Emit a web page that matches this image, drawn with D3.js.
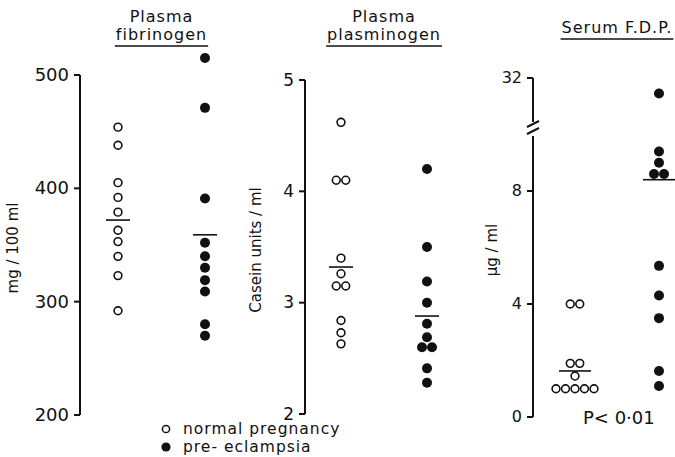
<!DOCTYPE html>
<html>
<head>
<meta charset="utf-8">
<script src="https://cdn.jsdelivr.net/npm/d3@7"></script>
<style>
  body { margin: 0; background: #fff; }
  svg text { font-family: "DejaVu Sans", sans-serif; fill: #111; }
</style>
</head>
<body>
<div id="chart"></div>
<script>
// values
var fibrinogenNormal = [454, 438, 405, 392, 379, 363, 353, 340, 323, 292];
var fibrinogenPre = [515, 471, 391, 352, 340, 330, 319, 309, 280, 270];
var fibrinogenMeans = [372, 359];
var fibrinogenTicks = [200, 300, 400, 500];

var plasminogenNormal = [4.62, 4.10, 4.10, 3.40, 3.26, 3.15, 3.15, 2.84, 2.73, 2.63];
var plasminogenPre = [4.20, 3.50, 3.19, 3.00, 2.81, 2.69, 2.60, 2.60, 2.41, 2.28];
var plasminogenMeans = [3.32, 2.88];
var plasminogenTicks = [2, 3, 4, 5];

var fdpNormal = [4.0, 4.0, 1.9, 1.9, 1.45, 1.0, 1.0, 1.0, 1.0, 1.0];
var fdpPre = [28, 9.4, 9.0, 8.6, 8.6, 5.35, 4.3, 3.5, 1.63, 1.1];
var fdpMeans = [1.63, 8.4];
var fdpTicks = [0, 4, 8, 32];

var groups = ['normal pregnancy', 'pre- eclampsia'];

var width = 675, height = 457;
var svg = d3.select('#chart').append('svg')
    .attr('width', width).attr('height', height);

var ink = '#111';

// panel setup
var panels = [
  {title: ['Plasma', 'fibrinogen'], axisX: 80, domain: [200, 500], range: [415, 75],
   ticks: fibrinogenTicks, fmt: d3.format('d'), cols: [118, 205],
   data: [fibrinogenNormal, fibrinogenPre], means: fibrinogenMeans,
   label: 'mg / 100 ml', labelX: 18, labelY: 248, tickSize: 18},
  {title: ['Plasma', 'plasminogen'], axisX: 305, domain: [2, 5], range: [414, 80],
   ticks: plasminogenTicks, fmt: d3.format('d'), cols: [341, 427],
   data: [plasminogenNormal, plasminogenPre], means: plasminogenMeans,
   label: 'Casein units / ml', labelX: 261, labelY: 250, tickSize: 17},
  {title: ['Serum F.D.P.'], axisX: 533, domain: [0, 8], range: [417, 191],
   upperDomain: [16, 32], upperRange: [140, 78],
   ticks: fdpTicks, fmt: d3.format('d'), cols: [575, 659],
   data: [fdpNormal, fdpPre], means: fdpMeans,
   label: 'µg / ml', labelX: 497, labelY: 250, tickSize: 16}
];

panels.forEach(function(p, pi) {
  var g = svg.append('g');
  var yLow = d3.scaleLinear().domain(p.domain).range(p.range);
  var yUp = p.upperDomain ? d3.scaleLinear().domain(p.upperDomain).range(p.upperRange) : null;
  var y = function(v) { return (yUp && v > p.domain[1] + 4) ? yUp(v) : yLow(v); };

  // axis line (with a break for the F.D.P. panel)
  if (yUp) {
    g.append('line').attr('x1', p.axisX).attr('x2', p.axisX)
      .attr('y1', yUp(32)).attr('y2', 122).attr('stroke', ink).attr('stroke-width', 2);
    g.append('line').attr('x1', p.axisX).attr('x2', p.axisX)
      .attr('y1', 136).attr('y2', yLow(0)).attr('stroke', ink).attr('stroke-width', 2);
    [124, 131].forEach(function(by) {
      g.append('line').attr('x1', p.axisX - 6).attr('x2', p.axisX + 6)
        .attr('y1', by + 3).attr('y2', by - 3).attr('stroke', ink).attr('stroke-width', 2);
    });
  } else {
    g.append('line').attr('x1', p.axisX).attr('x2', p.axisX)
      .attr('y1', p.range[1]).attr('y2', p.range[0]).attr('stroke', ink).attr('stroke-width', 2);
  }

  // ticks
  var tk = g.selectAll('.tick').data(p.ticks).enter().append('g')
    .attr('transform', function(d) { return 'translate(' + p.axisX + ',' + y(d) + ')'; });
  tk.append('line').attr('x1', -6).attr('x2', 0).attr('stroke', ink).attr('stroke-width', 2);
  tk.append('text').attr('x', -11).attr('dy', '0.34em')
    .attr('text-anchor', 'end').style('font-size', p.tickSize + 'px')
    .text(function(d) { return p.fmt(d); });

  // y label
  g.append('text')
    .attr('transform', 'translate(' + p.labelX + ',' + p.labelY + ')rotate(-90)')
    .attr('text-anchor', 'middle').style('font-size', '15px')
    .text(p.label);

  // title
  var cx = pi === 2 ? 617 : (p.cols[0] + p.cols[1]) / 2;
  var ty = pi === 2 ? [33] : [22, 40];
  p.title.forEach(function(t, i) {
    var tt = g.append('text').attr('x', cx).attr('y', ty[i])
      .attr('text-anchor', 'middle').style('font-size', '16px').style('letter-spacing', '1px')
      .text(t);
    if (i === p.title.length - 1) {
      var w = tt.node().getComputedTextLength();
      g.append('line').attr('x1', cx - w / 2 - 1).attr('x2', cx + w / 2 + 1)
        .attr('y1', ty[i] + 6).attr('y2', ty[i] + 6)
        .attr('stroke', ink).attr('stroke-width', 1.3);
    }
  });

  // points, dodge equal values side by side
  p.data.forEach(function(vals, gi) {
    var filled = gi === 1;
    var step = filled ? 10 : 9.5;
    var counts = d3.rollup(vals, function(v) { return v.length; }, function(d) { return d; });
    var seen = new Map();
    var pts = vals.map(function(v) {
      var n = counts.get(v), k = seen.get(v) || 0;
      seen.set(v, k + 1);
      return {v: v, dx: (k - (n - 1) / 2) * step};
    });
    g.selectAll(null).data(pts).enter().append('circle')
      .attr('cx', function(d) { return p.cols[gi] + d.dx; })
      .attr('cy', function(d) { return y(d.v); })
      .attr('r', filled ? 5 : 3.9)
      .attr('fill', filled ? ink : '#fff')
      .attr('stroke', ink).attr('stroke-width', filled ? 0 : 1.6);

    // mean bar
    var half = (pi === 2) ? 16 : 12;
    g.append('line')
      .attr('x1', p.cols[gi] - half).attr('x2', p.cols[gi] + half)
      .attr('y1', y(p.means[gi])).attr('y2', y(p.means[gi]))
      .attr('stroke', ink).attr('stroke-width', 1.6);
  });
});

// legend
var leg = svg.append('g');
groups.forEach(function(name, i) {
  var ly = 429 + i * 18;
  leg.append('circle').attr('cx', 166).attr('cy', ly).attr('r', i ? 4.6 : 3.6)
    .attr('fill', i ? ink : '#fff').attr('stroke', ink).attr('stroke-width', i ? 0 : 1.5);
  leg.append('text').attr('x', 183).attr('y', ly).attr('dy', '0.32em')
    .style('font-size', '15.5px').style('letter-spacing', '1px')
    .text(name);
});

// significance note
svg.append('text').attr('x', 583).attr('y', 418).attr('dy', '0.36em')
  .style('font-size', '18px').text('P< 0·01');
</script>
</body>
</html>
